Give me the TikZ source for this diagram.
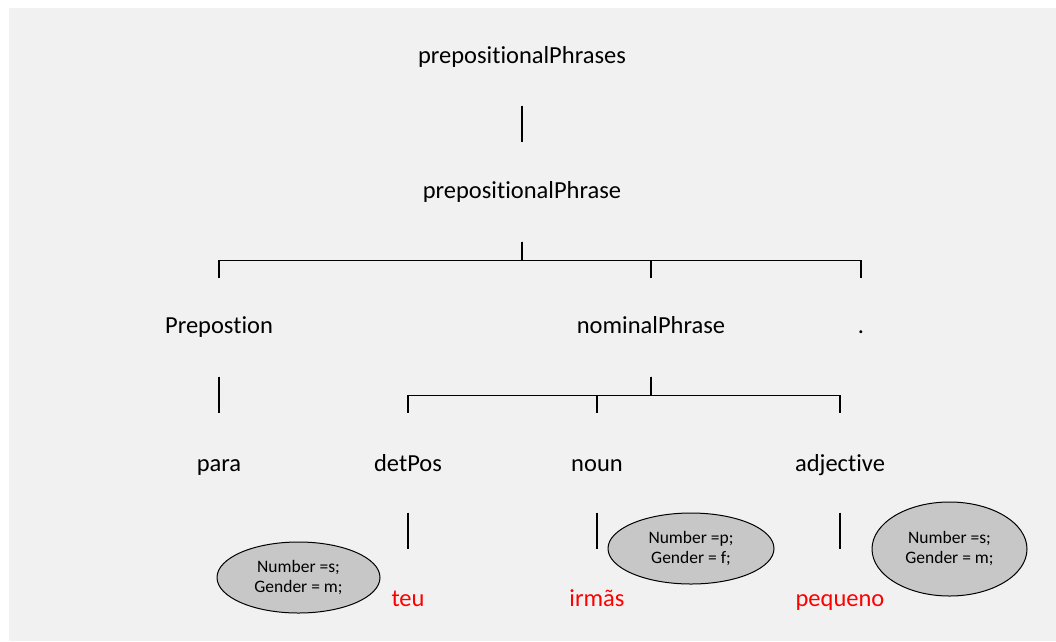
\documentclass[tikz,border=0pt]{standalone}
\usepackage{fontspec}
\setmainfont[Ligatures={NoCommon}]{Carlito}
\usetikzlibrary{shapes.geometric}
\definecolor{bggray}{gray}{0.945}
\definecolor{featgray}{gray}{0.78}

\begin{document}
\begin{tikzpicture}[x=1pt,y=-1pt,line width=1.15pt,
    word/.style={anchor=base,inner sep=0pt,text height=16pt,text depth=5pt,font=\fontsize{24.5}{28}\selectfont},
    leaf/.style={word,text=red},
    feat/.style={ellipse,draw=black,line width=1pt,fill=featgray,inner sep=0pt,align=center,font=\fontsize{17.5}{20}\selectfont}]
    \useasboundingbox (0,0) rectangle (1056,641);
    \fill [bggray] (9,8) rectangle (1056,641);
    \node [word] (Phrases) at (522,63) {prepositionalPhrases};
    \node [word] (Phrase) at (522,198) {prepositionalPhrase};
    \node [word] (Prep) at (219,333) {Prepostion};
    \node [word] (Nominal) at (651,333) {nominalPhrase};
    \node [word] (Dot) at (861,333) {.};
    \node [word] (Para) at (219,471) {para};
    \node [word] (DetPos) at (408,471) {detPos};
    \node [word] (Noun) at (597,471) {noun};
    \node [word] (Adjective) at (840,471) {adjective};
    \node [leaf] (Teu) at (408,606) {teu};
    \node [leaf] (Irmas) at (597,606) {irmãs};
    \node [leaf] (Pequeno) at (840,606) {pequeno};
    \draw [shorten <=37pt,shorten >=39pt] (Phrases) -- (Phrase);
    \foreach \child in {Prep,Nominal,Dot}
        \draw ([yshift=-38pt]Phrase.south) -- ++(0,19) -| ([yshift=38pt]\child.north);
    \draw [shorten <=38pt,shorten >=41pt] (Prep) -- (Para);
    \foreach \child in {DetPos,Noun,Adjective}
        \draw ([yshift=-38pt]Nominal.south) -- ++(0,19) -| ([yshift=41pt]\child.north);
    \foreach \word/\leaf in {DetPos/Teu,Noun/Irmas,Adjective/Pequeno}
        \draw [shorten <=36pt,shorten >=40pt] (\word) -- (\leaf);
    \node [feat,minimum width=163pt,minimum height=71pt] (FeatTeu) at (298.5,577.5) {Number =s;\\Gender = m;};
    \node [feat,minimum width=166pt,minimum height=71pt] (FeatIrmas) at (691,548.5) {Number =p;\\Gender = f;};
    \node [feat,minimum width=155pt,minimum height=94pt] (FeatPequeno) at (949.5,549) {Number =s;\\Gender = m;};
\end{tikzpicture}
\end{document}
